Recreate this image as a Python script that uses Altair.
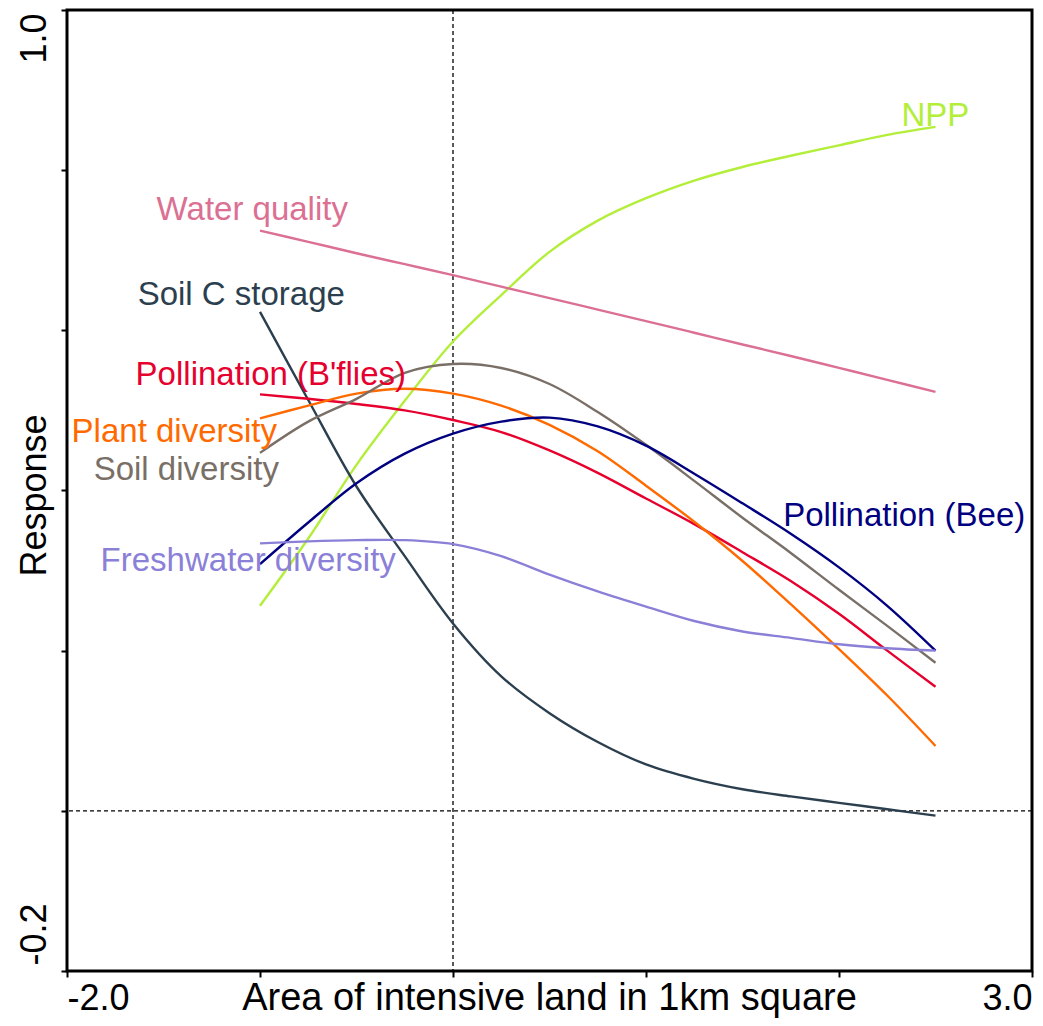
import altair as alt
import pandas as pd

# ---- data ----
x_vals = [-1.0, -0.75, -0.5, -0.25, 0.0, 0.25, 0.5, 0.75, 1.0, 1.25, 1.5, 1.75, 2.0, 2.25, 2.5]

npp = [0.256, 0.340, 0.432, 0.512, 0.586, 0.644, 0.698, 0.737, 0.765, 0.787, 0.804, 0.818, 0.831, 0.844, 0.854]
water_quality = [0.7245, 0.7105, 0.6963, 0.6826, 0.6689, 0.6546, 0.6402, 0.6259, 0.6116, 0.5970, 0.5823, 0.5680, 0.5531, 0.5382, 0.5232]
soil_c = [0.623, 0.513, 0.405, 0.318, 0.234, 0.168, 0.122, 0.086, 0.058, 0.040, 0.027, 0.018, 0.010, 0.002, -0.006]
poll_bflies = [0.520, 0.5145, 0.508, 0.500, 0.488, 0.473, 0.450, 0.422, 0.390, 0.358, 0.323, 0.287, 0.246, 0.200, 0.155]
plant_div = [0.490, 0.506, 0.521, 0.527, 0.521, 0.506, 0.482, 0.449, 0.406, 0.361, 0.312, 0.258, 0.202, 0.144, 0.081]
soil_div = [0.447, 0.486, 0.5145, 0.547, 0.558, 0.553, 0.533, 0.498, 0.457, 0.412, 0.366, 0.322, 0.276, 0.231, 0.185]
poll_bee = [0.308, 0.360, 0.409, 0.446, 0.471, 0.486, 0.491, 0.480, 0.456, 0.421, 0.384, 0.346, 0.304, 0.256, 0.200]
fresh_div = [0.334, 0.3365, 0.338, 0.338, 0.333, 0.318, 0.295, 0.274, 0.255, 0.237, 0.224, 0.216, 0.208, 0.203, 0.200]

series_names = ["NPP", "Water quality", "Soil C storage", "Pollination (B'flies)",
                "Plant diversity", "Soil diversity", "Pollination (Bee)", "Freshwater diversity"]
series_values = [npp, water_quality, soil_c, poll_bflies, plant_div, soil_div, poll_bee, fresh_div]
series_colors = ["#B3EE3A", "#DB7093", "#2B3F4F", "#E6002E",
                 "#FF6A00", "#7A6F66", "#000080", "#8B80D8"]

# label anchors (data coordinates, centre / baseline)
label_x = [2.499, -1.040, -1.097, -0.944, -1.444, -1.382, 2.338, -1.061]
label_y = [0.8556, 0.7373, 0.6315, 0.5319, 0.4610, 0.4137, 0.3552, 0.2991]

x_ticks = [-2, -1, 0, 1, 2, 3]
y_ticks = [-0.2, 0.0, 0.2, 0.4, 0.6, 0.8, 1.0]

FONT = "Liberation Sans, Arial, sans-serif"

rows = []
for name, vals in zip(series_names, series_values):
    for xv, yv in zip(x_vals, vals):
        rows.append({"series": name, "x": xv, "y": yv})
df = pd.DataFrame(rows)
labels_df = pd.DataFrame({"series": series_names, "x": label_x, "y": label_y})

xscale = alt.Scale(domain=[-2, 3], nice=False, zero=False)
yscale = alt.Scale(domain=[-0.2, 1.0], nice=False, zero=False)
cscale = alt.Scale(domain=series_names, range=series_colors)

x_axis = alt.Axis(
    values=x_ticks,
    labelExpr="datum.value == -2 ? '-2.0' : (datum.value == 3 ? '3.0' : '')",
    labelFlush=True, labelOverlap=False,
    labelFont=FONT, labelFontSize=36, labelColor="black",
    labelBaseline="alphabetic", labelPadding=32,
    tickSize=6, tickWidth=2, tickColor="black",
    domain=False, grid=False,
    title="Area of intensive land in 1km square",
    titleFont=FONT, titleFontSize=38, titleFontWeight="normal", titleColor="black",
    titleBaseline="alphabetic", titleAlign="center", titleX=482, titleY=38,
)
y_axis = alt.Axis(
    values=y_ticks,
    labelExpr="datum.value > 0.99 ? '1.0' : (datum.value < -0.19 ? '-0.2' : '')",
    labelOverlap=False, labelAngle=270,
    labelAlign={"condition": {"test": "datum.value > 0.5", "value": "right"}, "value": "left"},
    labelOffset={"condition": {"test": "datum.value > 0.5", "value": 3}, "value": -6},
    labelFont=FONT, labelFontSize=36, labelColor="black",
    labelBaseline="alphabetic", labelPadding=16,
    tickSize=6, tickWidth=2, tickColor="black",
    domain=False, grid=False,
    title="Response",
    titleFont=FONT, titleFontSize=36, titleFontWeight="normal", titleColor="black",
    titleAngle=270, titleBaseline="alphabetic", titleAlign="center", titleX=-22, titleY=485,
)

vrule = alt.Chart(pd.DataFrame({"x": [0.0]})).mark_rule(
    color="black", strokeWidth=1.3, strokeDash=[4, 3]
).encode(x=alt.X("x:Q", scale=xscale, axis=x_axis))

hrule = alt.Chart(pd.DataFrame({"y": [0.0]})).mark_rule(
    color="black", strokeWidth=1.3, strokeDash=[4, 3]
).encode(y=alt.Y("y:Q", scale=yscale, axis=y_axis))

lines = alt.Chart(df).mark_line(strokeWidth=2.4, interpolate="catmull-rom").encode(
    x=alt.X("x:Q", scale=xscale, axis=x_axis),
    y=alt.Y("y:Q", scale=yscale, axis=y_axis),
    color=alt.Color("series:N", scale=cscale, legend=None),
    detail="series:N",
)

texts = alt.Chart(labels_df).mark_text(
    font=FONT, fontSize=33, align="center", baseline="alphabetic"
).encode(
    x=alt.X("x:Q", scale=xscale, axis=x_axis),
    y=alt.Y("y:Q", scale=yscale, axis=y_axis),
    text="series:N",
    color=alt.Color("series:N", scale=cscale, legend=None),
)

chart = alt.layer(vrule, hrule, lines, texts).properties(
    width=965, height=961,
    autosize="none",
    padding={"left": 59, "top": 2, "right": 2, "bottom": 47},
    background="white",
).configure_view(stroke="black", strokeWidth=3)

chart.save("out.html", embed_options={"renderer": "svg", "actions": False})
